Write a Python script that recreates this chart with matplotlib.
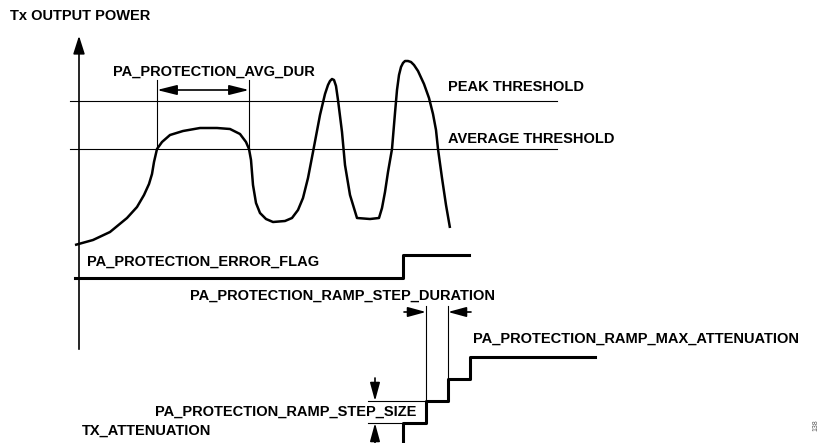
import matplotlib.pyplot as plt

# diagram laid out in pixel units of the original picture (y grows down)
curve_x = [75, 93, 110, 127, 137, 144, 149, 152, 154, 157, 162, 170, 183, 200, 217, 230, 240, 246, 249,
           251, 253, 256, 260, 266, 273, 285, 292, 298, 303, 308, 313, 320, 325, 328, 330, 332, 334,
           336, 338, 342, 345, 350, 357, 370, 379, 382, 385, 388, 392, 395, 397, 399, 401, 403, 405,
           408, 411, 414, 418, 424, 429, 433, 436, 438, 442, 446, 450]
curve_y = [245, 240, 232, 218, 207, 195, 184, 174, 162, 149, 142, 135, 131, 128, 128, 129, 134, 142, 149,
           160, 185, 203, 213, 219, 222, 221, 218, 210, 198, 178, 152, 115, 94, 85, 81, 79, 80,
           86, 100, 132, 165, 195, 218, 219, 218, 208, 192, 172, 149, 113, 90, 75, 67, 63, 61,
           61, 62, 65, 71, 84, 98, 114, 130, 149, 178, 205, 228]

peak_y = 101
avg_y = 149
threshold_x = [70, 557]

flag_x = [75, 403, 403, 469]
flag_y = [278, 278, 255, 255]

atten_x = [403, 403, 426, 426, 448, 448, 470, 470, 595]
atten_y = [443, 423, 423, 401, 401, 379, 379, 357, 357]

avg_dur_x = [157, 249]
step_dur_x = [426, 448]

fig = plt.figure(figsize=(8.22, 4.43), dpi=100)
ax = fig.add_axes([0, 0, 1, 1])
ax.set_xlim(0, 822)
ax.set_ylim(443, 0)
ax.axis('off')

font = dict(family='Liberation Sans', weight='bold', fontsize=10.5, va='center', ha='left')
thin = dict(color='black', lw=0.8)
head = dict(color='black', lw=1.2, shrinkA=0, shrinkB=0)

# y axis with arrow
ax.annotate('', xy=(79, 33), xytext=(79, 352),
            arrowprops=dict(arrowstyle='-|>,head_length=1.1,head_width=0.35', color='black', lw=1.2))
ax.text(10, 16, 'Tx OUTPUT POWER', **font)

# thresholds
ax.plot(threshold_x, [peak_y, peak_y], **thin)
ax.plot(threshold_x, [avg_y, avg_y], **thin)
ax.text(448, 87, 'PEAK THRESHOLD', **font)
ax.text(448, 139, 'AVERAGE THRESHOLD', **font)

# power curve
ax.plot(curve_x, curve_y, color='black', lw=1.8, solid_joinstyle='round', solid_capstyle='butt')

# averaging window
for x in avg_dur_x:
    ax.plot([x, x], [80, avg_y], **thin)
ax.annotate('', xy=(avg_dur_x[0], 90), xytext=(avg_dur_x[1], 90),
            arrowprops=dict(arrowstyle='<|-|>,head_length=1.2,head_width=0.3', **head))
ax.text(113, 72, 'PA_PROTECTION_AVG_DUR', **font)

# error flag
ax.plot(flag_x, flag_y, color='black', lw=2.2)
ax.text(87, 262, 'PA_PROTECTION_ERROR_FLAG', **font)

# step duration
for x, top in zip(step_dur_x, [401, 379]):
    ax.plot([x, x], [306, top], **thin)
ax.annotate('', xy=(step_dur_x[0], 312), xytext=(404, 312),
            arrowprops=dict(arrowstyle='-|>,head_length=1.1,head_width=0.3', **head))
ax.annotate('', xy=(step_dur_x[1], 312), xytext=(471, 312),
            arrowprops=dict(arrowstyle='-|>,head_length=1.1,head_width=0.3', **head))
ax.text(190, 296, 'PA_PROTECTION_RAMP_STEP_DURATION', **font)

# attenuation staircase
ax.plot(atten_x, atten_y, color='black', lw=2.2)
ax.text(473, 339, 'PA_PROTECTION_RAMP_MAX_ATTENUATION', **font)

# step size
ax.plot([368, 426], [401, 401], **thin)
ax.plot([368, 403], [423, 423], **thin)
ax.annotate('', xy=(375, 401), xytext=(375, 378),
            arrowprops=dict(arrowstyle='-|>,head_length=1.1,head_width=0.3', **head))
ax.annotate('', xy=(375, 423), xytext=(375, 443),
            arrowprops=dict(arrowstyle='-|>,head_length=1.1,head_width=0.3', **head))
ax.text(155, 412, 'PA_PROTECTION_RAMP_STEP_SIZE', **font)
ax.text(82, 431, 'TX_ATTENUATION', **font)

ax.text(816, 425, '138', family='Liberation Sans', fontsize=5, color='#555555',
        rotation=90, ha='center', va='center')

fig.savefig('out.png', dpi=100)
